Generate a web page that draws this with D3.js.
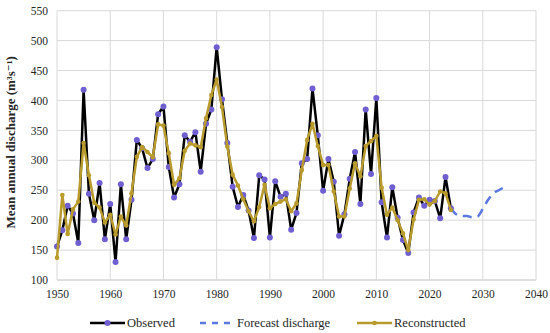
<!DOCTYPE html>
<html>
<head>
<meta charset="utf-8">
<script src="https://cdn.jsdelivr.net/npm/d3@7"></script>
<style>
  body { margin: 0; background: #fff; }
  svg text { font-family: "Liberation Serif", "DejaVu Serif", serif; fill: #262626; }
</style>
</head>
<body>
<svg id="chart" width="550" height="333"></svg>
<script>
// years 1950..2024
var startYear = 1950;
var observed = [156, 183, 224, 211, 162, 418, 244, 200, 262, 168,
                227, 130, 260, 168, 234, 334, 320, 287, 302, 377,
                390, 289, 238, 260, 342, 331, 347, 281, 361, 385,
                489, 402, 329, 256, 222, 242, 216, 170, 275, 268,
                171, 265, 239, 244, 184, 212, 295, 302, 420, 342,
                249, 302, 264, 174, 210, 269, 314, 227, 385, 277,
                404, 230, 171, 255, 204, 167, 145, 213, 238, 224,
                234, 232, 203, 272, 220];
var reconstructed = [137, 242, 177, 218, 231, 329, 275, 229, 221, 196,
                     209, 176, 206, 191, 245, 306, 322, 314, 305, 360,
                     358, 312, 259, 270, 316, 328, 325, 322, 370, 409,
                     435, 389, 323, 276, 258, 235, 215, 198, 222, 259,
                     220, 227, 231, 235, 215, 228, 284, 334, 361, 324,
                     292, 292, 248, 206, 206, 253, 295, 273, 324, 332,
                     341, 254, 209, 221, 200, 178, 150, 201, 234, 235,
                     226, 232, 248, 245, 217];
var forecastYears = [2024, 2025, 2026, 2027, 2028, 2029, 2030, 2031, 2032, 2033, 2034];
var forecast = [220, 210, 207, 207, 205, 206, 219, 234, 245, 250, 255];
var xTicks = [1950, 1960, 1970, 1980, 1990, 2000, 2010, 2020, 2030, 2040];
var yTicks = [100, 150, 200, 250, 300, 350, 400, 450, 500, 550];
var legendNames = ["Observed", "Forecast discharge", "Reconstructed"];

var svg = d3.select("#chart");
var x = d3.scaleLinear().domain([1950, 2040]).range([57, 536]);
var y = d3.scaleLinear().domain([100, 550]).range([280, 10.7]);

// grid
svg.append("g").selectAll("line").data(yTicks).enter()
  .append("line")
  .attr("x1", x(1950)).attr("x2", x(2040))
  .attr("y1", function(d){ return y(d); }).attr("y2", function(d){ return y(d); })
  .attr("stroke", function(d){ return d == 100 ? "#bfbfbf" : "#d9d9d9"; })
  .attr("stroke-width", 1);
svg.append("g").selectAll("line").data(xTicks).enter()
  .append("line")
  .attr("x1", function(d){ return x(d); }).attr("x2", function(d){ return x(d); })
  .attr("y1", y(550)).attr("y2", y(100))
  .attr("stroke", "#d9d9d9")
  .attr("stroke-width", 1);

// axes (labels only)
var xAxis = d3.axisBottom(x).tickValues(xTicks).tickFormat(d3.format("d")).tickSize(0).tickPadding(10);
var gx = svg.append("g").attr("transform", "translate(0," + y(100) + ")").call(xAxis);
gx.select(".domain").remove();
gx.selectAll("text").attr("font-size", 11.5).style("font-family", "Liberation Serif");

var yAxis = d3.axisLeft(y).tickValues(yTicks).tickSize(0).tickPadding(9);
var gy = svg.append("g").attr("transform", "translate(" + x(1950) + ",0)").call(yAxis);
gy.select(".domain").remove();
gy.selectAll("text").attr("font-size", 11.5).style("font-family", "Liberation Serif");

svg.append("text")
  .attr("transform", "translate(15," + ((y(100) + y(550)) / 2 - 3) + ") rotate(-90)")
  .attr("text-anchor", "middle")
  .attr("font-size", 13)
  .attr("font-weight", "bold")
  .text("Mean annual discharge (m³s⁻¹)");

var obsData = observed.map(function(v, i){ return [startYear + i, v]; });
var recData = reconstructed.map(function(v, i){ return [startYear + i, v]; });
var fcData = forecast.map(function(v, i){ return [forecastYears[i], v]; });

var line = d3.line()
  .x(function(d){ return x(d[0]); })
  .y(function(d){ return y(d[1]); });

// observed
svg.append("path").datum(obsData)
  .attr("d", line).attr("fill", "none")
  .attr("stroke", "#000").attr("stroke-width", 2.5).attr("stroke-linejoin", "round");
svg.append("g").selectAll("circle").data(obsData).enter()
  .append("circle")
  .attr("cx", function(d){ return x(d[0]); })
  .attr("cy", function(d){ return y(d[1]); })
  .attr("r", 3)
  .attr("fill", "#6f5fd0");

// forecast
svg.append("path").datum(fcData)
  .attr("d", line.curve(d3.curveMonotoneX)).attr("fill", "none")
  .attr("stroke", "#5a78e0").attr("stroke-width", 2.5)
  .attr("stroke-dasharray", "9,6");
line.curve(d3.curveLinear);

// reconstructed
svg.append("path").datum(recData)
  .attr("d", line).attr("fill", "none")
  .attr("stroke", "#b89b2c").attr("stroke-width", 2.5).attr("stroke-linejoin", "round");
svg.append("g").selectAll("circle").data(recData).enter()
  .append("circle")
  .attr("cx", function(d){ return x(d[0]); })
  .attr("cy", function(d){ return y(d[1]); })
  .attr("r", 2.3)
  .attr("fill", "#b89b2c");

// legend
var legendX = [90, 200, 357];
var legendY = 323;
var lg = svg.append("g");
legendNames.forEach(function(name, i){
  var g = lg.append("g").attr("transform", "translate(" + legendX[i] + "," + legendY + ")");
  var ln = g.append("line").attr("x1", 0).attr("x2", 35).attr("y1", 0).attr("y2", 0)
    .attr("stroke-width", 2.5);
  if (i == 0) {
    ln.attr("stroke", "#000");
    g.append("circle").attr("cx", 17.5).attr("cy", 0).attr("r", 3).attr("fill", "#6f5fd0");
  } else if (i == 1) {
    ln.attr("stroke", "#5a78e0").attr("stroke-dasharray", "6,6");
  } else {
    ln.attr("stroke", "#b89b2c");
    g.append("circle").attr("cx", 17.5).attr("cy", 0).attr("r", 2.3).attr("fill", "#b89b2c");
  }
  g.append("text").attr("x", 37).attr("y", 4).attr("font-size", 12.5).text(name);
});
</script>
</body>
</html>
